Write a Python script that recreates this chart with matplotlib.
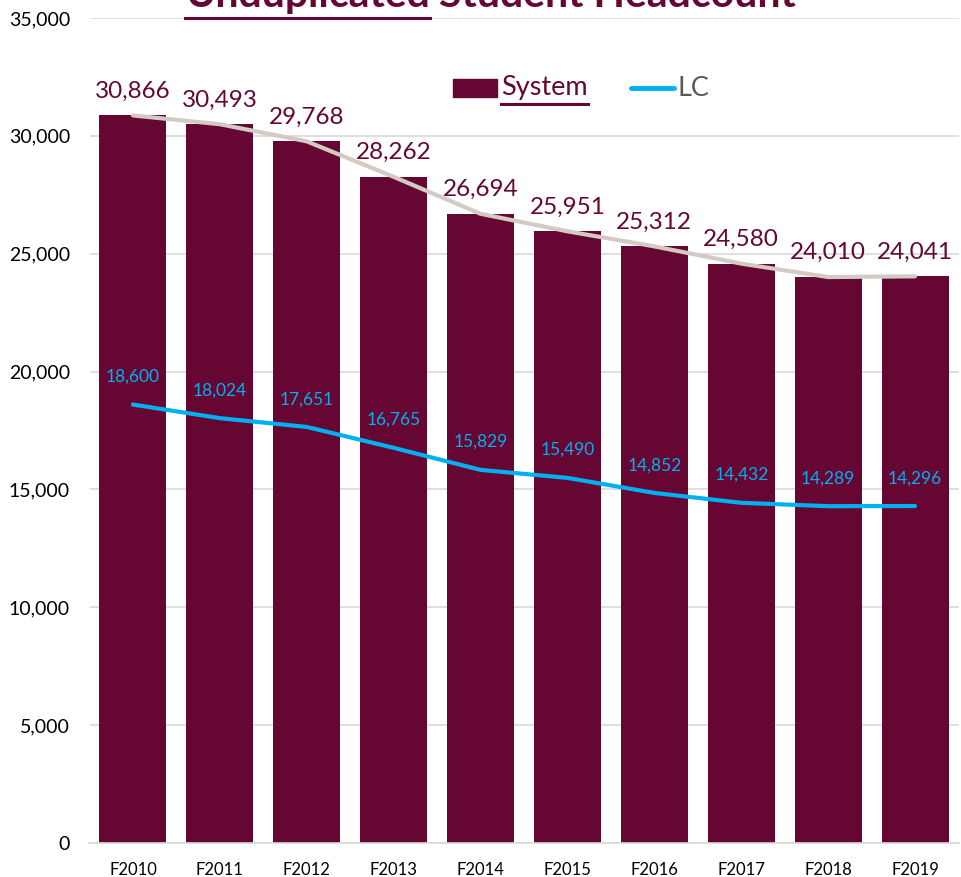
import matplotlib
matplotlib.use("Agg")
import matplotlib.pyplot as plt
from matplotlib.patches import Rectangle
from matplotlib.lines import Line2D

# data
years = ["F2010", "F2011", "F2012", "F2013", "F2014",
         "F2015", "F2016", "F2017", "F2018", "F2019"]
system = [30866, 30493, 29768, 28262, 26694, 25951, 25312, 24580, 24010, 24041]
lc = [18600, 18024, 17651, 16765, 15829, 15490, 14852, 14432, 14289, 14296]
yticks = [0, 5000, 10000, 15000, 20000, 25000, 30000, 35000]

MAROON = "#660733"
BLUE = "#00B0F0"
TAN = "#D3CBC3"
GRID = "#D9D9D9"

plt.rcParams['font.family'] = ['Lato', 'DejaVu Sans']

W, H = 961, 877
fig = plt.figure(figsize=(W / 100, H / 100), dpi=100)
ax = fig.add_axes([89.5 / W, 34 / H, 869 / W, 825 / H])

x = list(range(len(years)))
ax.bar(x, system, width=0.77, color=MAROON, zorder=2)
ax.plot(x, system, color=TAN, lw=3, zorder=3, solid_capstyle='round')
ax.plot(x, lc, color=BLUE, lw=3, zorder=3, solid_capstyle='round')

for i, v in enumerate(system):
    ax.annotate(f"{v:,}", (i, v), xytext=(0, 10), textcoords='offset points',
                ha='center', va='bottom', fontsize=17.5, color=MAROON, zorder=4)
for i, v in enumerate(lc):
    ax.annotate(f"{v:,}", (i, v), xytext=(0, 20), textcoords='offset points',
                ha='center', va='center', fontsize=12.5, color=BLUE, zorder=4)

ax.set_xlim(-0.5, len(years) - 0.5)
ax.set_ylim(0, 35000)
ax.set_yticks(yticks)
ax.set_yticklabels([f"{t:,}" for t in yticks], fontsize=14)
ax.set_xticks(x)
ax.set_xticklabels(years, fontsize=12)
ax.tick_params(length=0, pad=14, colors='black')
ax.tick_params(axis='x', pad=14)
ax.grid(axis='y', color=GRID, lw=1.2, zorder=0)
ax.set_axisbelow(True)
for s in ['top', 'right', 'left']:
    ax.spines[s].set_visible(False)
ax.spines['bottom'].set_color(GRID)
ax.spines['bottom'].set_linewidth(1.2)

# title, partly cut off at the top edge like the original
t1 = fig.text(185 / W, 1 - 7 / H, "Unduplicated", fontsize=29.5, fontweight='bold',
              color=MAROON, ha='left', va='baseline')
fig.canvas.draw()
bb = t1.get_window_extent()
t2 = fig.text((bb.x1 + 9) / W, 1 - 7 / H, "Student Headcount", fontsize=29.5,
              fontweight='bold', color=MAROON, ha='left', va='baseline')

# legend drawn by hand
fig.patches.append(Rectangle((453 / W, 1 - 97 / H), 44 / W, 18 / H,
                             transform=fig.transFigure, color=MAROON))
t3 = fig.text(501 / W, 1 - 88 / H, "System", fontsize=19.5, color=MAROON,
              ha='left', va='center')
fig.lines.append(Line2D([631 / W, 674 / W], [1 - 88 / H, 1 - 88 / H],
                        transform=fig.transFigure, color=BLUE, lw=3.5,
                        solid_capstyle='round'))
fig.text(678 / W, 1 - 88 / H, "LC", fontsize=19.5, color='#595959',
         ha='left', va='center')

# underlines
fig.canvas.draw()
for t, off in [(t1, 4), (t3, 3)]:
    b = t.get_window_extent()
    yb = (b.y0 - off) / H
    fig.lines.append(Line2D([b.x0 / W, b.x1 / W], [yb, yb],
                            transform=fig.transFigure, color=MAROON, lw=2.2))

fig.savefig("out.png", dpi=100)
